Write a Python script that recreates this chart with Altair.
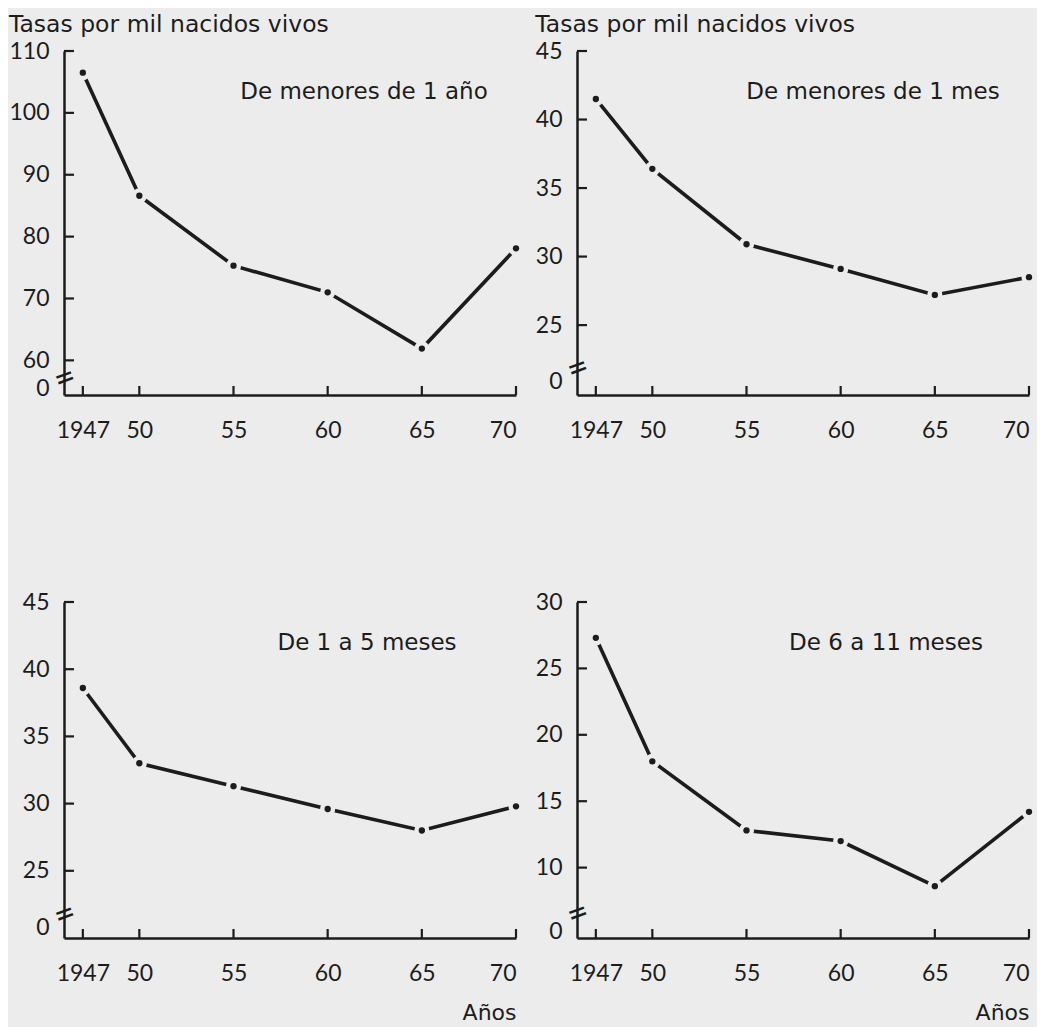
import altair as alt
import pandas as pd

years = [1947, 1950, 1955, 1960, 1965, 1970]
v_menor_1_ano = [106.5, 86.6, 75.3, 71.0, 61.9, 78.1]
v_menor_1_mes = [41.5, 36.4, 30.9, 29.1, 27.2, 28.5]
v_1_a_5 = [38.6, 33.0, 31.3, 29.6, 28.0, 29.8]
v_6_a_11 = [27.3, 18.0, 12.8, 12.0, 8.6, 14.2]

x_ticks = [1947, 1950, 1955, 1960, 1965, 1970]
x_labels = ["1947", "50", "55", "60", "65", "70"]

yt_1 = [60, 70, 80, 90, 100, 110]
yt_2 = [25, 30, 35, 40, 45]
yt_3 = [25, 30, 35, 40, 45]
yt_4 = [10, 15, 20, 25, 30]

BG = "#ececec"
INK = "#1c1c1c"
FONT = "Lato"
TFONT = "DejaVu Sans"
W = 452

x_expr = ""
for v, l in zip(x_ticks, x_labels):
    x_expr += f"datum.value == {v} ? '{l}' : "
x_expr += "datum.label"


def panel(vals, ydom, yticks, zero_at, brk_at, label, label_x, H, title=None, xtitle=None):
    df = pd.DataFrame({"year": years, "v": vals})
    dfx = pd.DataFrame({"year": x_ticks})
    dfy = pd.DataFrame({"v": yticks})
    one = pd.DataFrame({"t": [label]})
    xaxis_kw = dict(values=x_ticks, labelExpr=x_expr, ticks=False, grid=False,
                    domainColor=INK, domainWidth=2.5, labelFontSize=23,
                    labelColor=INK, labelPadding=24, labelFont=FONT)
    if xtitle:
        xaxis_kw.update(title=xtitle, titleAnchor="end", titleFontSize=22,
                        titleFontWeight="normal", titleColor=INK, titleFont=TFONT,
                        titlePadding=17)
    else:
        xaxis_kw.update(title=None)
    X = alt.X("year:Q", scale=alt.Scale(domain=[1946, 1970], nice=False, zero=False),
              axis=alt.Axis(**xaxis_kw))
    yexpr = f"datum.value < {yticks[0]} ? '0' : datum.label"
    Y = alt.Y("v:Q", scale=alt.Scale(domain=ydom, nice=False, zero=False),
              axis=alt.Axis(values=[zero_at] + yticks, labelExpr=yexpr, ticks=False,
                            grid=False, domainColor=INK, domainWidth=2.5,
                            labelFontSize=23, labelColor=INK, labelPadding=15,
                            labelFont=FONT, title=None))
    base = alt.Chart(df)
    line = base.mark_line(color=INK, strokeWidth=3.6).encode(x=X, y=Y)
    gap = base.mark_point(filled=True, color=BG, opacity=1, size=230).encode(x=X, y=Y)
    dot = base.mark_point(filled=True, color=INK, opacity=1, size=40).encode(x=X, y=Y)
    xt = alt.Chart(dfx).mark_rule(color=INK, strokeWidth=2.2).encode(
        x=X, y=alt.value(H), y2=alt.value(H - 9))
    yt = alt.Chart(dfy).mark_rule(color=INK, strokeWidth=2.2).encode(
        y=Y, x=alt.value(0), x2=alt.value(10))
    brk = alt.Chart(one).mark_text(text="=", angle=340, fontSize=36, color=INK,
                                   font=FONT).encode(x=alt.value(1), y=alt.datum(brk_at))
    lab = alt.Chart(one).mark_text(fontSize=23, color=INK, font=TFONT,
                                   align="center", baseline="middle").encode(
        text="t:N", x=alt.value(label_x), y=alt.value(41))
    ch = alt.layer(line, gap, dot, xt, yt, brk, lab).properties(width=W, height=H)
    if title:
        ch = ch.properties(title=alt.TitleParams(title, anchor="start", frame="bounds",
                                                 fontSize=23.5, fontWeight="normal",
                                                 color=INK, font=TFONT, offset=4))
    return ch


p1 = panel(v_menor_1_ano, [54.4, 110], yt_1, 55.5, 57.0, "De menores de 1 año", 300, 344,
           title="Tasas por mil nacidos vivos")
p2 = panel(v_menor_1_mes, [19.9, 45], yt_2, 20.9, 21.8, "De menores de 1 mes", 296, 344,
           title="Tasas por mil nacidos vivos")
p3 = panel(v_1_a_5, [20, 45], yt_3, 20.75, 21.7, "De 1 a 5 meses", 303, 336, xtitle="Años")
p4 = panel(v_6_a_11, [4.7, 30], yt_4, 5.2, 6.5, "De 6 a 11 meses", 309, 336, xtitle="Años")

chart = alt.concat(p1, p2, p3, p4, columns=2, spacing={"row": 207, "column": 61},
                   bounds="flush").properties(
    background=BG, padding={"left": 0, "top": 4, "right": 0, "bottom": 4}
).configure_view(stroke=None)

chart.save("out.html", embed_options={"renderer": "svg", "actions": False})
